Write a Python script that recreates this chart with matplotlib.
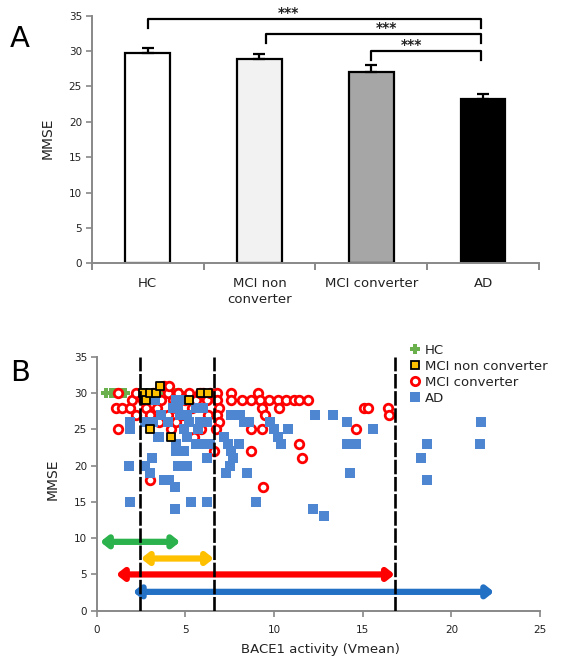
import matplotlib
matplotlib.use("Agg")
import matplotlib.pyplot as plt
from matplotlib.patches import FancyArrowPatch
from matplotlib.lines import Line2D

# ---------------- Panel A data ----------------
groups = ["HC", "MCI non\nconverter", "MCI converter", "AD"]
mmse_mean = [29.7, 28.9, 27.0, 23.2]
mmse_err = [0.7, 0.7, 1.1, 0.7]
bar_colors = ["#FFFFFF", "#F2F2F2", "#A6A6A6", "#000000"]
# significance brackets
brackets_left = [0.0, 1.06, 2.0]
brackets_right = [2.98, 2.98, 2.98]
brackets_y = [34.5, 32.4, 30.0]
brackets_leg = [33.2, 31.2, 28.8]
stars_x = [1.26, 2.14, 2.36]
stars_label = ["***", "***", "***"]

# ---------------- Panel B data ----------------
hc_x = [0.5, 0.8, 1.0, 1.2, 1.4, 1.6, 2.3, 2.6, 2.9, 3.2, 3.6, 4.0, 4.4, 4.7]
hc_y = [30, 30, 30, 30, 30, 30, 30, 30, 30, 30, 30, 30, 30, 30]

mcin_x = [2.6, 2.8, 3.0, 3.35, 3.55, 3.0, 4.2, 5.2, 5.9, 6.3]
mcin_y = [30, 29, 30, 30, 31, 25, 24, 29, 30, 30]

mcic_x = [1.2, 1.1, 1.4, 1.9, 2.0, 2.2, 1.2, 2.2,
          2.6, 2.8, 3.0, 3.2, 3.4, 3.6, 3.8, 4.0, 4.1, 4.3, 4.5, 4.6, 4.8, 5.0,
          5.2, 5.4, 5.6, 5.8, 6.0, 6.2, 6.4, 3.0, 4.2, 4.5, 5.5, 3.5, 4.0, 6.3, 5.9,
          6.8, 7.6, 9.1, 6.8, 7.6, 8.2, 8.7, 9.2, 9.7, 10.2, 10.7, 11.1, 11.4, 11.9,
          6.9, 9.3, 10.3, 9.5, 6.8, 6.9, 8.7, 9.3, 6.7, 11.4, 8.7, 6.6, 11.6, 9.4,
          14.6, 15.1, 15.3, 16.4, 16.5]
mcic_y = [30, 28, 28, 28, 29, 27, 25, 30,
          29, 28, 27, 30, 28, 29, 31, 30, 31, 29, 28, 30, 27, 29,
          30, 28, 29, 30, 30, 29, 30, 18, 25, 26, 24, 26, 27, 27, 25,
          30, 30, 30, 29, 29, 29, 29, 29, 29, 29, 29, 29, 29, 29,
          28, 28, 28, 27, 27, 26, 25, 25, 25, 23, 22, 22, 21, 17,
          25, 28, 28, 28, 27]

ad_x = [1.9, 1.9, 1.8, 1.9, 3.3, 2.9, 3.2, 3.5, 3.6, 4.0, 2.7, 3.1, 3.0,
        3.8, 4.1, 4.4, 4.4, 5.3, 6.2, 6.2, 4.6, 5.1, 4.5, 4.9, 4.5, 4.9,
        4.6, 5.1, 5.6, 6.0, 4.7, 5.2, 5.8, 6.2, 4.9, 5.7, 5.1, 4.5, 5.6, 6.0, 6.4,
        2.7, 3.45, 4.3,
        7.3, 7.5, 7.7, 7.6, 8.0, 7.2, 7.4, 7.6, 8.1, 8.3, 8.6, 8.5, 9.0,
        9.8, 10.0, 10.2, 10.4, 10.8, 12.3, 13.3, 14.1, 15.6, 14.1, 14.6, 14.3,
        12.2, 12.8, 18.3, 18.6, 18.6, 21.7, 21.6]
ad_y = [25, 26, 20, 15, 29, 26, 26, 24, 27, 26, 20, 21, 19,
        18, 18, 17, 14, 15, 15, 21, 20, 20, 22, 22, 29, 29,
        28, 27, 28, 28, 27, 26, 26, 26, 25, 25, 24, 23, 23, 23, 23,
        26, 24, 28,
        19, 20, 21, 22, 23, 24, 23, 27, 27, 26, 26, 19, 15,
        26, 25, 24, 23, 25, 27, 27, 26, 25, 23, 23, 19,
        14, 13, 21, 23, 18, 26, 23]

# ranges (arrows) per group
range_lo = [0.2, 2.5, 1.1, 2.05]
range_hi = [4.7, 6.6, 16.8, 22.4]
range_y = [9.5, 7.2, 5.0, 2.6]
range_colors = ["#2BB24C", "#FFC000", "#FF0000", "#2371C4"]
cutoffs = [2.46, 6.6, 16.8]

xlabel_b = "BACE1 activity (Vmean)"
legend_labels = ["HC", "MCI non converter", "MCI converter", "AD"]

# ---------------- Figure ----------------
W, H = 568, 671
fig = plt.figure(figsize=(W / 100, H / 100), dpi=100)
plt.rcParams['font.family'] = ['DejaVu Sans']

spine_col = "#888888"
txt_col = "#222222"


def px_rect(l, r, t, b):
    return [l / W, 1 - b / H, (r - l) / W, (b - t) / H]


# ---- Panel A ----
axA = fig.add_axes(px_rect(91.7, 539, 15.7, 263.3))
xs = list(range(len(groups)))
axA.bar(xs, mmse_mean, width=0.4, color=bar_colors, edgecolor="black",
        linewidth=1.6, zorder=2)
axA.errorbar(xs, mmse_mean, yerr=[[0] * 4, mmse_err], fmt="none",
             ecolor="black", elinewidth=1.6, capsize=4, capthick=1.6, zorder=3)
axA.set_xlim(-0.5, 3.5)
axA.set_ylim(0, 35)
axA.set_yticks(range(0, 36, 5))
axA.set_xticks(xs)
axA.set_xticklabels(groups, fontsize=9.5, color=txt_col, linespacing=1.3)
axA.set_xticks([-0.5, 0.5, 1.5, 2.5, 3.5], minor=True)
axA.tick_params(axis="x", which="major", length=0, pad=10)
axA.tick_params(axis="x", which="minor", length=5, color=spine_col, width=1.4)
axA.tick_params(axis="y", length=4, color=spine_col, width=1.2,
                labelsize=7.5, labelcolor=txt_col, pad=3)
for s in ["top", "right"]:
    axA.spines[s].set_visible(False)
for s in ["left", "bottom"]:
    axA.spines[s].set_color(spine_col)
    axA.spines[s].set_linewidth(1.4)
axA.set_ylabel("MMSE", fontsize=10, color=txt_col)
axA.yaxis.set_label_coords(-0.084, 0.506)

for xl, xr, yb, yl, sx, st in zip(brackets_left, brackets_right, brackets_y,
                                  brackets_leg, stars_x, stars_label):
    axA.plot([xl, xl, xr, xr], [yl, yb, yb, yl], color="black", lw=1.6,
             clip_on=False, zorder=4)
    axA.text(sx, yb - 0.1, st, ha="center", va="bottom", fontsize=10,
             fontweight="bold", color=txt_col, clip_on=False, zorder=5)

fig.text(20 / W, 1 - 39 / H, "A", fontsize=21, ha="center", va="center",
         color="black")

# ---- Panel B ----
axB = fig.add_axes(px_rect(96.7, 540, 357, 610.7))
axB.set_xlim(0, 25)
axB.set_ylim(0, 35)
axB.set_xticks(range(0, 26, 5))
axB.set_yticks(range(0, 36, 5))
axB.tick_params(length=4, color=spine_col, width=1.2, labelsize=7.5,
                labelcolor=txt_col, pad=3)
axB.tick_params(axis="x", pad=6)
for s in ["top", "right"]:
    axB.spines[s].set_visible(False)
for s in ["left", "bottom"]:
    axB.spines[s].set_color(spine_col)
    axB.spines[s].set_linewidth(1.4)
axB.set_ylabel("MMSE", fontsize=10, color=txt_col)
axB.yaxis.set_label_coords(-0.083, 0.519)
axB.set_xlabel(xlabel_b, fontsize=9.5, color=txt_col)
axB.xaxis.set_label_coords(0.504, -0.127)

axB.scatter(hc_x, hc_y, marker="P", s=55, color="#6AB04C", zorder=2,
            linewidths=0)
axB.scatter(mcic_x, mcic_y, marker="o", s=38, facecolor="white",
            edgecolor="#FF0000", linewidths=2.0, zorder=3)
axB.scatter(ad_x, ad_y, marker="s", s=52, color="#4F86D2", linewidths=0,
            zorder=4)
axB.scatter(mcin_x, mcin_y, marker="s", s=30, facecolor="#FFC000",
            edgecolor="black", linewidths=1.3, zorder=5)

for lo, hi, yy, c in zip(range_lo, range_hi, range_y, range_colors):
    arr = FancyArrowPatch((lo, yy), (hi, yy),
                          arrowstyle="<|-|>,head_length=0.4,head_width=0.32",
                          mutation_scale=10, color=c, lw=4.5,
                          shrinkA=0, shrinkB=0, zorder=6)
    axB.add_patch(arr)

for cx in cutoffs:
    axB.plot([cx, cx], [0, 35], color="black", lw=1.9,
             linestyle=(0, (5.5, 1.0)), zorder=7)

handles = [
    Line2D([], [], marker="P", linestyle="none", markersize=7.5,
           color="#6AB04C", markeredgewidth=0),
    Line2D([], [], marker="s", linestyle="none", markersize=5.5,
           markerfacecolor="#FFC000", markeredgecolor="black",
           markeredgewidth=1.3),
    Line2D([], [], marker="o", linestyle="none", markersize=6,
           markerfacecolor="white", markeredgecolor="#FF0000",
           markeredgewidth=2.0),
    Line2D([], [], marker="s", linestyle="none", markersize=7,
           color="#4F86D2", markeredgewidth=0),
]
fig.legend(handles, legend_labels, loc="upper left",
           bbox_to_anchor=(409 / W, 1 - 344 / H), frameon=False,
           fontsize=9.5, handlelength=0.9, handletextpad=0.3,
           labelspacing=0.22, borderpad=0, borderaxespad=0,
           labelcolor=txt_col)

fig.text(20 / W, 1 - 373 / H, "B", fontsize=21, ha="center", va="center",
         color="black")

fig.savefig("out.png", dpi=100)
